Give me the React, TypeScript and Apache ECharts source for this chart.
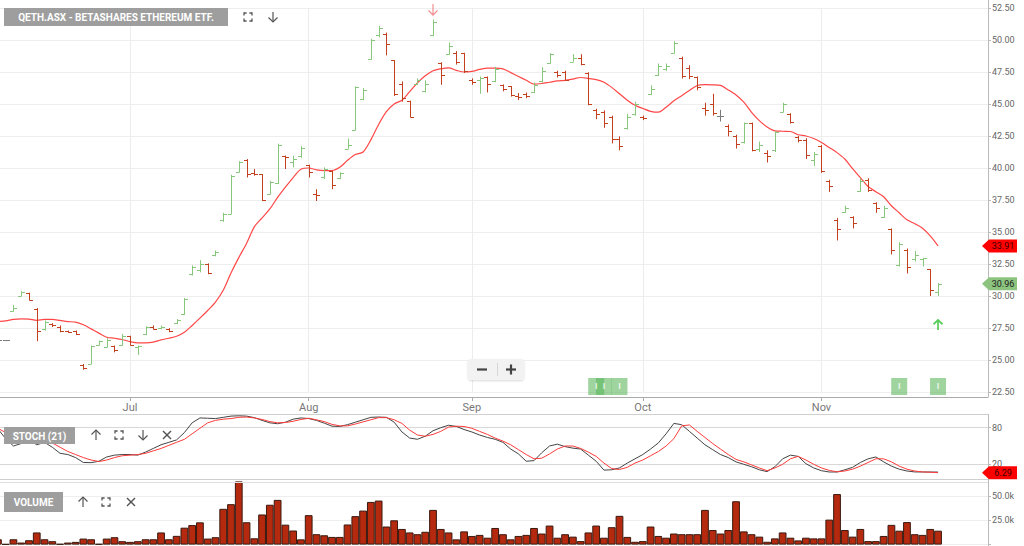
import React, { useEffect, useRef } from 'react';
import * as echarts from 'echarts';

// ---------- data ----------
const dates = [
  '2025-06-05','2025-06-06','2025-06-10','2025-06-11','2025-06-12','2025-06-13','2025-06-16','2025-06-17','2025-06-18','2025-06-19','2025-06-20','2025-06-23','2025-06-24','2025-06-25','2025-06-26','2025-06-27','2025-06-30',
  '2025-07-01','2025-07-02','2025-07-03','2025-07-04','2025-07-07','2025-07-08','2025-07-09','2025-07-10','2025-07-11','2025-07-14','2025-07-15','2025-07-16','2025-07-17','2025-07-18','2025-07-21','2025-07-22','2025-07-23','2025-07-24','2025-07-25','2025-07-28','2025-07-29','2025-07-30','2025-07-31',
  '2025-08-01','2025-08-04','2025-08-05','2025-08-06','2025-08-07','2025-08-08','2025-08-11','2025-08-12','2025-08-13','2025-08-14','2025-08-15','2025-08-18','2025-08-19','2025-08-20','2025-08-21','2025-08-22','2025-08-25','2025-08-26','2025-08-27','2025-08-28','2025-08-29',
  '2025-09-01','2025-09-02','2025-09-03','2025-09-04','2025-09-05','2025-09-08','2025-09-09','2025-09-10','2025-09-11','2025-09-12','2025-09-15','2025-09-16','2025-09-17','2025-09-18','2025-09-19','2025-09-22','2025-09-23','2025-09-24','2025-09-25','2025-09-26','2025-09-29','2025-09-30',
  '2025-10-01','2025-10-02','2025-10-03','2025-10-06','2025-10-07','2025-10-08','2025-10-09','2025-10-10','2025-10-13','2025-10-14','2025-10-15','2025-10-16','2025-10-17','2025-10-20','2025-10-21','2025-10-22','2025-10-23','2025-10-24','2025-10-27','2025-10-28','2025-10-29','2025-10-30','2025-10-31',
  '2025-11-03','2025-11-04','2025-11-05','2025-11-06','2025-11-07','2025-11-10','2025-11-11','2025-11-12','2025-11-13','2025-11-14','2025-11-17','2025-11-18','2025-11-19','2025-11-20','2025-11-21','2025-11-24',
];

const openP = [
  26.55,26.55,28.85,30.0,30.2,29.0,27.4,27.8,27.6,27.25,27.25,24.6,24.7,26.2,26.0,26.1,26.2,
  26.9,26.0,27.0,27.6,27.5,27.4,27.9,28.6,31.7,32.0,32.5,33.2,35.9,36.4,39.7,40.6,39.6,39.5,38.0,38.8,40.95,40.5,40.9,
  40.2,38.0,39.3,39.8,39.2,41.5,43.0,45.4,48.5,50.4,50.5,48.4,46.6,45.2,46.6,46.0,50.4,48.2,48.9,49.0,49.0,
  46.9,46.9,47.1,46.8,46.5,46.4,45.65,45.8,45.9,46.8,48.2,47.5,47.5,48.3,48.6,47.4,44.5,44.4,44.0,42.3,43.1,44.2,
  44.0,45.8,47.3,47.7,49.0,48.6,47.8,47.1,44.7,45.0,44.1,43.3,42.5,42.0,43.5,41.5,41.2,41.4,44.4,44.2,42.4,42.2,40.6,
  41.7,39.0,35.9,36.6,36.2,38.2,39.1,37.3,36.2,35.2,32.4,33.6,32.9,32.9,32.1,30.3,
];
const highP = [
  26.55,26.55,29.3,30.37,30.26,29.06,28.09,27.88,27.7,27.3,27.3,24.69,26.13,26.52,26.7,26.13,27.04,
  26.9,26.13,27.64,27.7,27.7,27.49,28.2,29.84,32.4,32.8,32.55,33.55,36.5,39.47,40.53,40.7,39.92,39.53,39.0,41.9,40.97,40.97,41.7,
  40.26,38.34,40.05,39.8,39.66,42.3,46.37,46.24,50.1,51.1,50.58,48.42,46.76,45.26,47.0,46.84,51.6,48.26,49.8,49.13,49.0,
  47.0,47.15,47.15,47.9,46.53,46.4,45.85,45.9,46.67,47.89,48.97,47.6,47.6,48.89,48.89,47.48,44.63,44.5,44.09,42.47,44.23,45.18,
  44.09,46.45,48.16,48.16,49.9,48.7,48.02,47.15,45.1,45.8,44.55,43.4,42.6,43.55,43.55,42.06,41.38,42.87,45.1,44.28,42.52,42.33,41.25,
  41.79,39.08,36.1,37.05,36.23,39.2,39.2,37.32,37.05,35.28,34.2,33.71,33.52,32.98,32.1,31.0,
];
const lowP = [
  26.55,26.55,28.8,30.0,29.66,26.47,27.3,27.57,27.17,27.12,26.96,24.24,24.69,26.13,25.99,25.6,26.13,
  26.13,25.4,26.96,27.38,27.4,27.17,27.8,28.53,31.6,31.85,31.7,33.1,35.8,36.4,39.66,39.26,39.4,37.42,37.95,38.74,39.92,40.05,40.8,
  39.26,37.42,39.13,38.34,39.13,41.5,42.95,45.3,48.47,50.2,48.8,45.63,45.18,43.95,46.5,45.9,50.3,46.5,48.87,48.08,47.42,
  46.5,45.8,45.9,46.7,45.99,45.58,45.31,45.45,45.85,46.67,48.16,47.07,46.8,48.3,48.02,44.9,43.82,43.14,41.92,41.38,43.0,44.09,
  43.74,45.72,47.2,47.6,48.97,46.99,46.94,46.07,44.09,44.09,43.63,42.47,41.52,41.92,41.3,41.25,40.43,41.25,44.36,43.47,42.0,40.7,40.16,
  39.62,38.13,34.34,36.5,35.28,38.13,38.13,36.5,36.1,33.25,32.3,31.76,32.7,32.3,30.0,30.0,
];
const closeP = [
  26.55,26.55,29.1,30.3,29.7,27.25,28.0,27.7,27.3,27.15,27.0,24.4,26.1,26.5,26.6,25.8,26.9,
  26.2,26.1,27.6,27.4,27.6,27.3,28.1,29.8,32.3,32.5,31.8,33.4,36.4,39.4,40.5,39.5,39.5,37.5,38.9,41.8,40.85,40.7,41.6,
  39.7,37.9,39.9,38.7,39.6,41.8,46.3,46.1,50.0,50.9,49.7,45.8,45.5,44.0,46.9,46.6,51.4,47.3,49.5,48.3,47.6,
  46.7,47.0,46.6,47.7,46.2,45.7,45.55,45.6,46.5,47.6,48.9,47.3,46.9,48.6,48.1,45.0,44.2,43.5,42.3,41.7,44.0,45.0,
  43.9,46.2,48.0,48.0,49.8,47.2,47.2,46.3,44.5,44.3,44.1,42.9,41.9,43.5,41.4,41.8,40.9,42.8,45.0,43.6,42.2,41.0,41.1,
  39.8,38.6,35.2,36.9,35.7,39.0,38.3,36.9,36.9,33.6,34.1,32.3,33.2,32.95,30.5,30.96,
];
const movingAvg = [
  28.0,28.06,28.17,28.22,28.2,28.1,28.17,28.17,28.09,28.0,27.96,27.75,27.43,27.1,26.78,26.7,26.6,
  26.44,26.34,26.34,26.39,26.57,26.7,26.86,27.17,27.7,28.27,28.87,29.53,30.45,31.8,33.0,34.1,35.4,36.1,36.8,37.7,38.5,39.25,39.9,
  40.0,39.85,39.8,39.8,40.05,40.6,41.05,41.25,42.2,43.4,44.4,45.0,45.3,45.97,46.65,47.2,47.6,47.75,47.82,47.63,47.5,
  47.55,47.7,47.8,47.8,47.75,47.45,47.15,46.85,46.55,46.6,46.7,46.8,46.85,46.95,47.07,47.0,46.9,46.7,46.3,45.8,45.3,44.9,
  44.65,44.43,44.36,44.75,45.25,45.65,46.05,46.45,46.52,46.5,46.45,46.1,45.7,45.15,44.35,43.7,43.2,42.9,42.87,42.85,42.6,42.5,42.3,
  42.0,41.6,41.2,40.7,39.95,39.25,38.55,38.15,37.75,37.05,36.5,35.95,35.65,35.3,34.7,33.91,
];
const stochK = [
  78,62,50,54,60,52,56,48,38,36,31,23,22.7,25,32,35,36,
  36,35,40,46,52,56,60,72,88,96,95.5,95,97,99,99.5,99,96.5,92,88,86.5,89,94,96,
  95,92,87.5,82.5,82,85,89,93,97,97.5,97,89,73,63,61,66,75,80,84,82,77,
  73,68,64,61,56,45,37,25,26,39,50,53,49,46.5,45,35,25,10.5,11,14,22,29,
  36,45,55,70,87,85,74,63,52,44,36,31,24,20,16,11,8,16,29,35,33,21,14,
  9.5,7.4,7.4,11,15,23,29,32,24,17,12,9,7.5,7.4,7.4,7.2,
];
const stochD = [
  79,72,64,58,57,57,57,55,48,41,36,31,27,24.5,27,31,34,
  35,36,38,42,46,51,56,61,70,79,88,92,94,95,97,97.5,96,93.5,90,88,88.5,90.5,93.5,
  95.5,93,90,85.5,83,83,86,89.5,93,96.5,96.5,93,87,76,68,66,69,74,81,82.5,82,
  79,74,69,63,58,52,44,36,29,30,37,45,50,50,46,40,33,22,13,11.5,15,22,
  27,34,41,50,62,83,84.5,74,64,54,45,36,28,24,19,14,9.5,14,20,29,33,27,20,
  14,10,7.6,9,12,17,23,29,29,24,17,12,9,7.5,7,6.29,
];
const volume = [
  5500,500,5500,2100,4500,12500,5500,3500,700,2100,2800,6200,5500,700,6200,7600,3500,
  2800,3500,5500,5500,12500,5500,9000,17400,20100,22900,6200,7600,36800,41600,65000,23000,6500,31000,41000,46000,20500,14500,5400,
  30300,10700,9600,7900,7900,20700,29300,35000,43900,45300,18600,25000,16100,12500,10700,13200,35700,16100,12500,5400,13600,
  8900,10000,7100,17100,10700,5400,8900,10000,17100,11400,19600,7100,10700,8200,3600,12500,19600,7100,17900,29600,7900,2900,
  3600,18600,8900,7100,11400,10700,10700,10700,35700,15000,11400,15000,44600,13600,10700,8200,2900,6400,12500,7100,4300,7100,6400,
  6400,25700,52000,15000,8200,16100,3600,3600,8900,20300,14300,23200,10700,10000,16100,14300,
];
const eventIdx = [77, 78, 80, 116, 121];
const sellSignalIdx = [56];
const buySignalIdx = [121];
const monthNames = ['Jan','Feb','Mar','Apr','May','Jun','Jul','Aug','Sep','Oct','Nov','Dec'];

// ---------- styling ----------
const GREEN = '#86c77b';
const RED = '#c3401f';
const GRAY = '#7a7a7a';
const FONT = 'Roboto, Arial, sans-serif';
const X_MIN = 0.27;
const X_MAX = 127.43;

function expandIcon(cx: number, cy: number) {
  const s = 4, a = 2.6, st = { stroke: '#555', lineWidth: 1.3, fill: 'none' };
  return [
    { type: 'polyline', z: 100, shape: { points: [[cx - s, cy - s + a], [cx - s, cy - s], [cx - s + a, cy - s]] }, style: st },
    { type: 'polyline', z: 100, shape: { points: [[cx + s - a, cy - s], [cx + s, cy - s], [cx + s, cy - s + a]] }, style: st },
    { type: 'polyline', z: 100, shape: { points: [[cx - s, cy + s - a], [cx - s, cy + s], [cx - s + a, cy + s]] }, style: st },
    { type: 'polyline', z: 100, shape: { points: [[cx + s - a, cy + s], [cx + s, cy + s], [cx + s, cy + s - a]] }, style: st },
  ];
}
function arrowIcon(cx: number, cy: number, up: boolean) {
  const st = { stroke: '#555', lineWidth: 1.2, fill: 'none' };
  const d = up ? -1 : 1;
  return [
    { type: 'line', z: 100, shape: { x1: cx, y1: cy - 5 * d, x2: cx, y2: cy + 5 * d }, style: st },
    { type: 'polyline', z: 100, shape: { points: [[cx - 4.5, cy + 0.5 * d], [cx, cy + 5 * d], [cx + 4.5, cy + 0.5 * d]] }, style: st },
  ];
}
function closeIcon(cx: number, cy: number) {
  const st = { stroke: '#555', lineWidth: 1.5 };
  return [
    { type: 'line', z: 100, shape: { x1: cx - 4, y1: cy - 4, x2: cx + 4, y2: cy + 4 }, style: st },
    { type: 'line', z: 100, shape: { x1: cx - 4, y1: cy + 4, x2: cx + 4, y2: cy - 4 }, style: st },
  ];
}
function labelBox(x: number, y: number, w: number, h: number, text: string) {
  return [
    { type: 'rect', z: 100, shape: { x, y, width: w, height: h }, style: { fill: '#9e9e9e' } },
    { type: 'text', z: 101, x: x + w / 2, y: y + h / 2 + 0.5, style: { text, fill: '#fff', font: `bold 10px ${FONT}`, align: 'center', verticalAlign: 'middle' } },
  ];
}
function priceTag(y: number, text: string, bg: string, fg: string) {
  return [
    { type: 'polygon', z: 100, shape: { points: [[982, y], [989, y - 6.5], [1017, y - 6.5], [1017, y + 6.5], [989, y + 6.5]] }, style: { fill: bg } },
    { type: 'text', z: 101, x: 1003, y, style: { text, fill: fg, font: `9px ${FONT}`, align: 'center', verticalAlign: 'middle' } },
  ];
}

export default function App() {
  const ref = useRef<HTMLDivElement>(null);
  useEffect(() => {
    const chart = echarts.init(ref.current!, null, { renderer: 'svg' });

    const monthStarts: number[] = [];
    const monthLabel: Record<number, string> = {};
    dates.forEach((d, i) => {
      if (i > 0 && d.slice(5, 7) !== dates[i - 1].slice(5, 7)) {
        monthStarts.push(i);
        monthLabel[i] = monthNames[parseInt(d.slice(5, 7), 10) - 1];
      }
    });

    const ohlcData = dates.map((_, i) => [i, openP[i], highP[i], lowP[i], closeP[i]]);

    const option: any = {
      animation: false,
      backgroundColor: '#fff',
      grid: [
        { left: 0, right: 36, top: 8, height: 384 },
        { left: 0, right: 36, top: 427.7, height: 36.6 },
        { left: 0, right: 36, top: 496, height: 48.6 },
      ],
      xAxis: [
        {
          type: 'value', gridIndex: 0, min: X_MIN, max: X_MAX, offset: 5,
          axisLine: { show: true, lineStyle: { color: '#aaa', width: 1 } },
          axisTick: { show: true, customValues: monthStarts, length: 4, lineStyle: { color: '#aaa' } },
          axisLabel: {
            customValues: monthStarts, color: '#777', fontSize: 11, fontFamily: FONT, margin: 5,
            formatter: (v: number) => monthLabel[v] ?? '',
          },
          splitLine: { show: false },
        },
        { type: 'value', gridIndex: 1, min: X_MIN, max: X_MAX, show: false },
        { type: 'value', gridIndex: 2, min: X_MIN, max: X_MAX, show: false },
      ],
      yAxis: [
        {
          type: 'value', gridIndex: 0, position: 'right', min: 22.5, max: 52.5, interval: 2.5,
          axisLine: { show: true, lineStyle: { color: '#bbb' } },
          axisTick: { show: true, length: 3, lineStyle: { color: '#bbb' } },
          axisLabel: { color: '#666', fontSize: 9, fontFamily: FONT, margin: 4, formatter: (v: number) => v.toFixed(2) },
          splitLine: { show: true, lineStyle: { color: '#eeeeee' } },
        },
        {
          type: 'value', gridIndex: 1, position: 'right', min: 20, max: 80, interval: 60,
          axisLine: { show: true, lineStyle: { color: '#bbb' } },
          axisTick: { show: true, length: 3, lineStyle: { color: '#bbb' } },
          axisLabel: { color: '#666', fontSize: 9, fontFamily: FONT, margin: 4 },
          splitLine: { show: true, lineStyle: { color: '#d8d8d8' } },
        },
        {
          type: 'value', gridIndex: 2, position: 'right', min: 0, max: 50000, interval: 25000,
          axisLine: { show: true, lineStyle: { color: '#bbb' } },
          axisTick: { show: true, length: 3, lineStyle: { color: '#bbb' } },
          axisLabel: {
            color: '#666', fontSize: 9, fontFamily: FONT, margin: 4,
            formatter: (v: number) => (v === 0 ? '' : (v / 1000).toFixed(1) + 'k'),
          },
          splitLine: { show: true, lineStyle: { color: '#eeeeee' } },
        },
      ],
      series: [
        {
          type: 'line', name: 'MA', xAxisIndex: 0, yAxisIndex: 0,
          data: movingAvg.map((v, i) => [i, v]),
          symbol: 'none', smooth: 0.3, z: 3,
          lineStyle: { color: '#ff4747', width: 1.2 },
          markLine: {
            silent: true, symbol: ['none', 'none'], label: { show: false },
            lineStyle: { color: '#ececec', width: 1, type: 'solid' },
            data: monthStarts.map((i) => ({ xAxis: i })),
            z: 1,
          },
        },
        {
          type: 'custom', name: 'OHLC', xAxisIndex: 0, yAxisIndex: 0, z: 4,
          encode: { x: 0, y: [1, 2, 3, 4] },
          data: ohlcData,
          renderItem: (params: any, api: any) => {
            const x = api.value(0), o = api.value(1), h = api.value(2), l = api.value(3), c = api.value(4);
            const pH = api.coord([x, h]);
            const pL = api.coord([x, l]);
            const pO = api.coord([x, o]);
            const pC = api.coord([x, c]);
            const cx = Math.round(pH[0]) + 0.5;
            const color = c > o ? GREEN : c < o ? RED : GRAY;
            const yo = Math.round(pO[1]) + 0.5;
            const yc = Math.round(pC[1]) + 0.5;
            const st = { stroke: color, lineWidth: 1 };
            return {
              type: 'group',
              children: [
                { type: 'line', shape: { x1: cx, y1: pH[1], x2: cx, y2: Math.max(pL[1], pH[1] + 1) }, style: st },
                { type: 'line', shape: { x1: cx - 3.5, y1: yo, x2: cx, y2: yo }, style: st },
                { type: 'line', shape: { x1: cx, y1: yc, x2: cx + 3.5, y2: yc }, style: st },
              ],
            };
          },
        },
        {
          type: 'scatter', name: 'events', xAxisIndex: 0, yAxisIndex: 0, z: 5,
          data: eventIdx.map((i) => [i, 22.93]),
          symbol: 'rect', symbolSize: [16, 17],
          itemStyle: { color: 'rgba(88,180,88,0.72)' },
          label: { show: true, formatter: 'I', color: '#fff', fontSize: 9, fontWeight: 'bold', position: 'inside' },
        },
        {
          type: 'scatter', name: 'sell', xAxisIndex: 0, yAxisIndex: 0, z: 5,
          data: sellSignalIdx.map((i) => [i, highP[i] + 0.78]),
          symbol: 'path://M4.5,0 L4.5,11 M0.5,6.5 L4.5,11 L8.5,6.5', symbolSize: [9, 11],
          itemStyle: { color: 'none', borderColor: '#f27272', borderWidth: 1.3 },
        },
        {
          type: 'scatter', name: 'buy', xAxisIndex: 0, yAxisIndex: 0, z: 5,
          data: buySignalIdx.map((i) => [i, lowP[i] - 2.27]),
          symbol: 'path://M4.5,11 L4.5,0 M0.5,4.5 L4.5,0 L8.5,4.5', symbolSize: [9, 10],
          itemStyle: { color: 'none', borderColor: '#30c030', borderWidth: 1.8 },
        },
        {
          type: 'line', name: '%K', xAxisIndex: 1, yAxisIndex: 1, clip: false,
          data: stochK.map((v, i) => [i, v]), symbol: 'none',
          lineStyle: { color: '#444', width: 1 },
        },
        {
          type: 'line', name: '%D', xAxisIndex: 1, yAxisIndex: 1, clip: false,
          data: stochD.map((v, i) => [i, v]), symbol: 'none',
          lineStyle: { color: '#ff3b3b', width: 1 },
        },
        {
          type: 'bar', name: 'Volume', xAxisIndex: 2, yAxisIndex: 2, clip: false,
          data: volume.map((v, i) => [i, v]), barWidth: 7.77,
          itemStyle: { color: '#b5290e', borderColor: '#3a1a10', borderWidth: 1 },
        },
      ],
    };
    chart.setOption(option);

    const last = dates.length - 1;
    const yMa = chart.convertToPixel({ yAxisIndex: 0 }, movingAvg[last]) as number;
    const yClose = chart.convertToPixel({ yAxisIndex: 0 }, closeP[last]) as number;
    const yStoch = chart.convertToPixel({ yAxisIndex: 1 }, stochD[last]) as number;

    const graphics: any[] = [
      { type: 'line', z: 50, shape: { x1: 0, y1: 414.5, x2: 988, y2: 414.5 }, style: { stroke: '#cfcfcf', lineWidth: 1 } },
      { type: 'line', z: 50, shape: { x1: 0, y1: 479.5, x2: 988, y2: 479.5 }, style: { stroke: '#cfcfcf', lineWidth: 1 } },
      { type: 'line', z: 50, shape: { x1: 0, y1: 482.5, x2: 988, y2: 482.5 }, style: { stroke: '#e0e0e0', lineWidth: 1 } },
      { type: 'line', z: 50, shape: { x1: 988.5, y1: 0, x2: 988.5, y2: 397 }, style: { stroke: '#bbb', lineWidth: 1 } },
      { type: 'line', z: 50, shape: { x1: 988.5, y1: 414, x2: 988.5, y2: 546 }, style: { stroke: '#bbb', lineWidth: 1 } },
      ...labelBox(4, 8, 224, 18, 'QETH.ASX - BETASHARES ETHEREUM ETF.'),
      ...expandIcon(248, 17),
      ...arrowIcon(273, 17, false),
      ...labelBox(4, 427, 71, 17, 'STOCH (21)'),
      ...arrowIcon(96, 435, true),
      ...expandIcon(119, 435),
      ...arrowIcon(143, 435, false),
      ...closeIcon(167, 435),
      ...labelBox(4, 492, 59, 20, 'VOLUME'),
      ...arrowIcon(83, 502, true),
      ...expandIcon(106, 502),
      ...closeIcon(131, 502),
      { type: 'rect', z: 100, shape: { x: 468, y: 359, width: 56, height: 21, r: 3 }, style: { fill: '#f2f2f2', shadowBlur: 2, shadowColor: 'rgba(0,0,0,0.15)', shadowOffsetY: 1 } },
      { type: 'line', z: 101, shape: { x1: 477, y1: 369.5, x2: 487, y2: 369.5 }, style: { stroke: '#444', lineWidth: 2.2 } },
      { type: 'line', z: 101, shape: { x1: 497.5, y1: 363, x2: 497.5, y2: 376 }, style: { stroke: '#d6d6d6', lineWidth: 1 } },
      { type: 'line', z: 101, shape: { x1: 506, y1: 369.5, x2: 516, y2: 369.5 }, style: { stroke: '#444', lineWidth: 2.2 } },
      { type: 'line', z: 101, shape: { x1: 511, y1: 364.5, x2: 511, y2: 374.5 }, style: { stroke: '#444', lineWidth: 2.2 } },
      ...priceTag(yMa, movingAvg[last].toFixed(2), '#ff0000', '#3a0000'),
      ...priceTag(yClose, closeP[last].toFixed(2), '#8cc47f', '#222'),
      ...priceTag(yStoch, stochD[last].toFixed(2), '#ff0000', '#3a0000'),
    ];
    chart.setOption({ graphic: graphics });

    return () => chart.dispose();
  }, []);

  return (
    <div
      ref={ref}
      style={{ position: 'absolute', left: 0, top: 0, width: 1024, height: 546, background: '#fff' }}
    />
  );
}
